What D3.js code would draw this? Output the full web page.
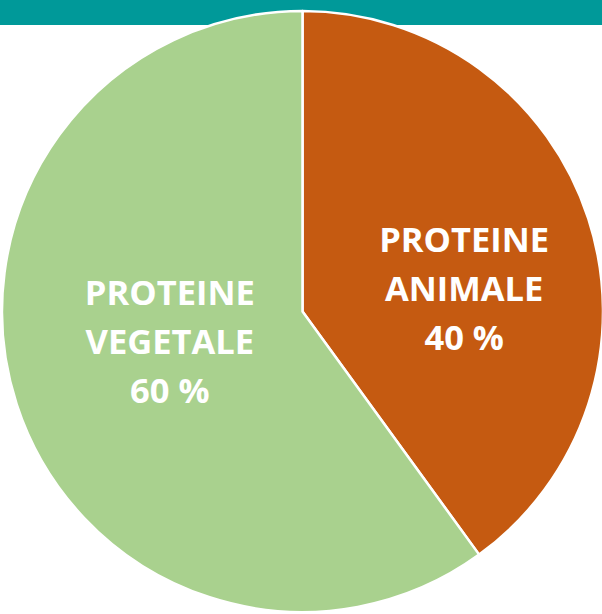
<!DOCTYPE html>
<html>
<head>
<meta charset="utf-8">
<script src="https://cdn.jsdelivr.net/npm/d3@7"></script>
<style>
  html, body { margin: 0; padding: 0; background: #ffffff; }
  svg { display: block; }
</style>
</head>
<body>
<svg id="chart" width="602" height="614"></svg>
<script>
// Data
const categories = ["PROTEINE ANIMALE", "PROTEINE VEGETALE"];
const labelLines = [["PROTEINE", "ANIMALE"], ["PROTEINE", "VEGETALE"]];
const values = [40, 60];
const valueLabels = ["40 %", "60 %"];
const colors = ["#C55A11", "#A9D18E"];

const W = 602, H = 614;
const svg = d3.select("#chart");

// Teal header band
svg.append("rect")
  .attr("x", 0).attr("y", 0)
  .attr("width", W).attr("height", 25)
  .attr("fill", "#009999");

const cx = 302.5, cy = 311.5, R = 300.5;
const g = svg.append("g").attr("transform", `translate(${cx},${cy})`);

const pie = d3.pie().sort(null).value(d => d.value);
const arcs = pie(values.map((v, i) => ({ value: v, i })));
const arc = d3.arc().innerRadius(0).outerRadius(R);

g.selectAll("path.slice")
  .data(arcs)
  .join("path")
  .attr("class", "slice")
  .attr("d", arc)
  .attr("fill", d => colors[d.data.i])
  .attr("stroke", "#ffffff")
  .attr("stroke-width", 2.5)
  .attr("stroke-linejoin", "round");

// Labels
const labelArc = d3.arc().innerRadius(150).outerRadius(150);
const labelShift = [[19, 24], [10, -16]];
const lineGap = 49;

arcs.forEach(d => {
  const [x0, y0] = labelArc.centroid(d);
  const [sx, sy] = labelShift[d.data.i];
  const lines = labelLines[d.data.i].concat([valueLabels[d.data.i]]);
  const t = g.append("text")
    .attr("text-anchor", "middle")
    .attr("font-family", "'Open Sans', sans-serif")
    .attr("font-weight", 700)
    .attr("font-size", 34.5)
    .attr("fill", "#ffffff");
  lines.forEach((ln, k) => {
    t.append("tspan")
      .attr("x", x0 + sx)
      .attr("y", y0 + sy + 12 + (k - 1) * lineGap)
      .text(ln);
  });
});
</script>
</body>
</html>
